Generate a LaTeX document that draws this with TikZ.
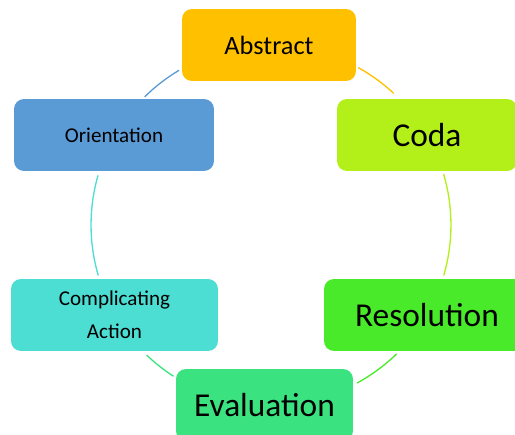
\documentclass[tikz,border=0pt]{standalone}
\usepackage{fontspec}
\setmainfont{Carlito}
\definecolor{cAbs}{HTML}{FFC000}
\definecolor{cCoda}{HTML}{B3F01A}
\definecolor{cRes}{HTML}{48EA2A}
\definecolor{cEval}{HTML}{3BE380}
\definecolor{cComp}{HTML}{4CDDD3}
\definecolor{cOri}{HTML}{5B9BD5}
\begin{document}
\begin{tikzpicture}[x=0.02cm,y=0.02cm,
  box/.style={rounded corners=0.2cm, minimum height=1.44cm, inner sep=0pt, align=center, text=black},
  ring/.style={line width=0.75pt}]
\useasboundingbox (0,0) rectangle (515,434);
\clip (0,0) rectangle (515,434);
\coordinate (o) at (271,209);
\node[box, fill=cAbs, minimum width=3.48cm, font=\fontsize{15}{18}\selectfont] (abs) at (269,389) {Abstract};
\node[box, fill=cCoda, minimum width=3.6cm, font=\fontsize{19}{23}\selectfont] (coda) at (427,299) {Coda};
\node[box, fill=cRes, minimum width=4.12cm, font=\fontsize{19}{23}\selectfont] (res) at (427,119) {Resolution};
\node[box, fill=cEval, minimum width=3.54cm, font=\fontsize{19}{23}\selectfont] (eval) at (264.5,29) {Evaluation};
\node[box, fill=cComp, minimum width=4.14cm, font=\fontsize{12}{18.7}\selectfont] (comp) at (114.5,119) {Complicating\\Action};
\node[box, fill=cOri, minimum width=4.0cm, font=\fontsize{12}{15}\selectfont] (ori) at (114,299) {Orientation};
\draw[ring, cAbs] ([shift={(61:3.6cm)}]o) arc[start angle=61, end angle=47, radius=3.6cm];
\draw[ring, cCoda] ([shift={(16.5:3.6cm)}]o) arc[start angle=16.5, end angle=-16.3, radius=3.6cm];
\draw[ring, cRes] ([shift={(-45.7:3.6cm)}]o) arc[start angle=-45.7, end angle=-61.4, radius=3.6cm];
\draw[ring, cEval] ([shift={(237.2:3.6cm)}]o) arc[start angle=237.2, end angle=226.3, radius=3.6cm];
\draw[ring, cComp] ([shift={(196.3:3.6cm)}]o) arc[start angle=196.3, end angle=164, radius=3.6cm];
\draw[ring, cOri] ([shift={(134.6:3.6cm)}]o) arc[start angle=134.6, end angle=120.7, radius=3.6cm];
\end{tikzpicture}
\end{document}
